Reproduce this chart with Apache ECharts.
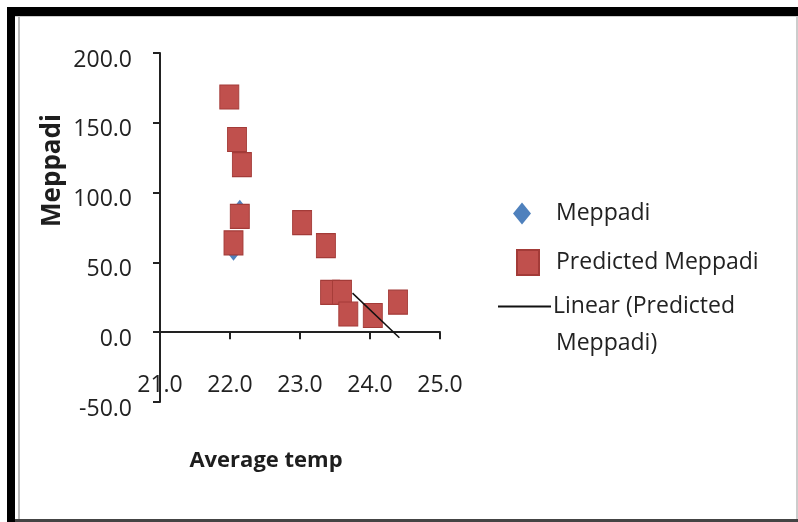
<!DOCTYPE html>
<html>
<head>
<meta charset="utf-8">
<script src="https://cdn.jsdelivr.net/npm/echarts@6/dist/echarts.min.js"></script>
<style>
  html, body { margin: 0; padding: 0; background: #fff; }
  #main { width: 798px; height: 522px; }
</style>
</head>
<body>
<div id="main"></div>
<script>
// values
var meppadiTemp = [22.0, 22.1, 22.17, 22.14, 22.05, 23.03, 23.37, 23.43, 23.6, 23.69, 24.04, 24.4]
var meppadiValue = [168, 138, 120, 88, 58, 79, 62, 29, 29, 13, 12, 21]
var predictedTemp = [21.99, 22.1, 22.17, 22.14, 22.05, 23.03, 23.37, 23.43, 23.6, 23.69, 24.04, 24.4]
var predictedValue = [168.5, 138, 120, 83, 64, 78.5, 62, 28.5, 28.5, 13, 12, 21.5]
var trendTemp = [23.75, 24.42]
var trendValue = [28, -4]
var xTicks = [21, 22, 23, 24, 25]
var yTicks = [-50, 0, 50, 100, 150, 200]

function pairs(xs, ys) {
  return xs.map(function (x, i) { return [x, ys[i]] })
}

var labelFont = '"Open Sans", "Noto Sans", sans-serif'

var chart = echarts.init(document.getElementById('main'))
var option = {
  backgroundColor: '#fff',
  animation: false,
  grid: { left: 160, top: 53, width: 280, height: 349, containLabel: false, outerBoundsMode: 'none' },
  xAxis: {
    type: 'value',
    min: xTicks[0],
    max: xTicks[xTicks.length - 1],
    interval: 1,
    name: 'Average temp',
    nameLocation: 'middle',
    nameGap: 48,
    nameTextStyle: { fontFamily: labelFont, fontWeight: 'bold', fontSize: 22, color: '#1e1e1e', padding: [0, 68, 0, 0] },
    axisLine: { onZero: true, lineStyle: { color: '#222', width: 2 } },
    axisTick: { length: 7, lineStyle: { color: '#222', width: 2 } },
    axisLabel: {
      margin: -28,
      fontFamily: labelFont, fontSize: 23, color: '#222',
      formatter: function (v) { return v.toFixed(1) }
    },
    splitLine: { show: false }
  },
  yAxis: {
    type: 'value',
    min: yTicks[0],
    max: yTicks[yTicks.length - 1],
    interval: 50,
    name: 'Meppadi',
    nameLocation: 'middle',
    nameGap: 94,
    nameTextStyle: { fontFamily: labelFont, fontWeight: 'bold', fontSize: 26, color: '#1e1e1e', padding: [0, 0, 0, 114] },
    axisLine: { lineStyle: { color: '#222', width: 2 } },
    axisTick: { length: 7, lineStyle: { color: '#222', width: 2 } },
    axisLabel: {
      margin: 28,
      fontFamily: labelFont, fontSize: 23, color: '#222',
      verticalAlign: 'top', lineHeight: 14,
      formatter: function (v) { return v.toFixed(1) }
    },
    splitLine: { show: false }
  },
  legend: [
    {
      data: [{ name: 'Meppadi', icon: 'diamond' }],
      left: 508, top: 197, itemWidth: 18, itemHeight: 22,
      itemStyle: { opacity: 1 },
      textStyle: { fontFamily: labelFont, fontSize: 23, color: '#222', padding: [0, 0, 0, 20] }
    },
    {
      data: [{ name: 'Predicted Meppadi', icon: 'rect' }],
      left: 511, top: 244, itemWidth: 22, itemHeight: 25,
      itemStyle: { opacity: 1 },
      textStyle: { fontFamily: labelFont, fontSize: 23, color: '#222', padding: [0, 0, 0, 12] }
    },
    {
      data: [{ name: 'Linear (Predicted Meppadi)', icon: 'rect' }],
      left: 493, top: 290, itemWidth: 53, itemHeight: 2,
      itemStyle: { color: '#111' },
      formatter: function () { return 'Linear (Predicted' },
      textStyle: { fontFamily: labelFont, fontSize: 23, color: '#222', padding: [0, 0, 0, -3] }
    }
  ],
  graphic: [
    { type: 'rect', shape: { x: 7, y: 7, width: 8, height: 515 }, style: { fill: '#000' } },
    { type: 'rect', shape: { x: 7, y: 7, width: 791, height: 9 }, style: { fill: '#000' } },
    { type: 'rect', shape: { x: 18, y: 16, width: 2, height: 506 }, style: { fill: '#bbb' } },
    { type: 'rect', shape: { x: 15, y: 16, width: 783, height: 1 }, style: { fill: '#ccc' } },
    { type: 'rect', shape: { x: 15, y: 519, width: 783, height: 3 }, style: { fill: '#444' } },
    { type: 'rect', shape: { x: 796, y: 16, width: 2, height: 503 }, style: { fill: '#ccc' } },
    {
      type: 'text', left: 556, top: 332,
      style: { text: 'Meppadi)', font: '23px "Open Sans", "Noto Sans", sans-serif', fill: '#222' }
    }
  ],
  series: [
    {
      name: 'Linear (Predicted Meppadi)',
      type: 'line',
      data: pairs(trendTemp, trendValue),
      showSymbol: false,
      symbol: 'none',
      lineStyle: { color: '#111', width: 1.5 },
      itemStyle: { color: '#111' }
    },
    {
      name: 'Meppadi',
      type: 'scatter',
      symbol: 'diamond',
      symbolSize: [15, 19],
      data: pairs(meppadiTemp, meppadiValue),
      itemStyle: { color: '#4F81BD', opacity: 1 }
    },
    {
      name: 'Predicted Meppadi',
      type: 'scatter',
      symbol: 'rect',
      symbolSize: [19, 24],
      data: pairs(predictedTemp, predictedValue),
      itemStyle: { color: '#C0504D', borderColor: '#A33B38', borderWidth: 1, opacity: 1 }
    }
  ]
}
chart.setOption(option)
</script>
</body>
</html>
